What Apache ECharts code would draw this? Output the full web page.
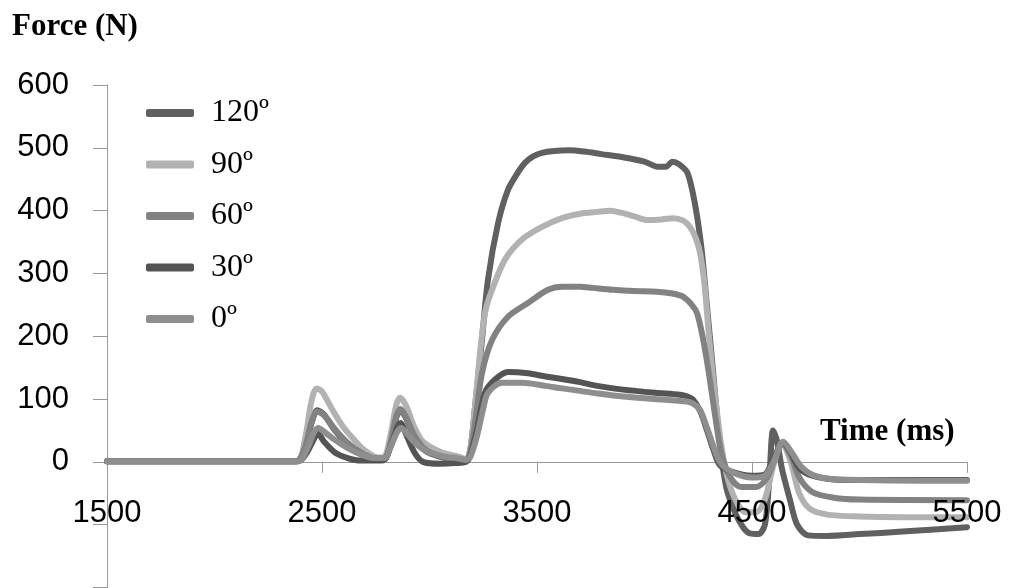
<!DOCTYPE html>
<html>
<head>
<meta charset="utf-8">
<script src="https://cdn.jsdelivr.net/npm/echarts@6/dist/echarts.min.js"></script>
<style>html,body{margin:0;padding:0;background:#fff}#c{width:1011px;height:588px}</style>
</head>
<body>
<div id="c"></div>
<script>
// ---- data (time in ms, force in N) ----
const seriesNames = ['120º', '90º', '60º', '30º', '0º'];
const xTicks = [1500, 2500, 3500, 4500, 5500];
const yTicks = [0, 100, 200, 300, 400, 500, 600];

const t120 = [1500,2380,2420,2450,2478,2510,2560,2620,2680,2740,2790,2820,2845,2865,2890,2930,2980,3050,3120,3170,3190,3212,3244,3272,3319,3365,3410,3444,3480,3523,3580,3650,3720,3800,3900,4000,4060,4100,4130,4160,4200,4235,4265,4290,4320,4350,4380,4420,4460,4490,4530,4560,4580,4598,4615,4640,4677,4710,4760,4850,5000,5200,5500];
const f120 = [1,1,20,60,82,75,50,28,14,5,4,30,70,82,70,40,18,8,4,3,20,88,194,290,380,433,460,476,486,492,495,496,494,490,485,478,470,470,478,474,460,410,340,250,140,30,-40,-80,-105,-114,-115,-100,-30,50,35,-12,-61,-100,-117,-118,-115,-111,-104];

const t90 = [1500,2380,2420,2450,2475,2500,2550,2600,2650,2700,2760,2790,2820,2845,2863,2890,2930,2970,3050,3140,3170,3190,3215,3240,3260,3291,3351,3430,3523,3616,3700,3780,3840,3900,3960,4012,4080,4133,4180,4212,4240,4260,4280,4300,4330,4360,4390,4430,4470,4520,4560,4600,4640,4680,4720,4770,4850,5000,5200,5500];
const f90 = [1,1,35,95,117,112,82,55,35,18,7,8,45,90,102,90,55,32,16,8,4,20,100,190,240,274,322,354,374,388,395,398,400,396,390,385,386,388,384,374,355,330,280,200,100,20,-30,-65,-80,-80,-60,-5,30,0,-50,-75,-84,-87,-88,-88];

const t60 = [1500,2380,2420,2450,2478,2510,2560,2620,2680,2740,2790,2820,2845,2865,2890,2930,2980,3050,3120,3170,3190,3215,3244,3291,3365,3458,3551,3616,3700,3760,3853,3950,4058,4130,4179,4220,4244,4270,4300,4330,4360,4400,4450,4520,4570,4600,4640,4680,4720,4780,4880,5000,5500];
const f60 = [1,1,22,62,80,74,52,30,15,6,5,32,72,84,72,42,20,9,4,3,15,70,141,194,231,253,274,279,279,277,274,272,271,268,263,250,237,200,140,70,10,-25,-40,-40,-25,0,30,10,-25,-48,-57,-60,-61];

const t30 = [1500,2390,2430,2460,2480,2510,2560,2620,2680,2780,2820,2850,2865,2890,2930,2970,3050,3120,3170,3190,3220,3258,3305,3365,3458,3540,3616,3700,3780,3900,4050,4165,4200,4226,4260,4290,4320,4350,4400,4500,4560,4600,4645,4680,4720,4780,4880,5000,5500];
const f30 = [1,1,15,35,45,32,15,6,2,2,25,55,62,45,15,0,-3,-2,0,10,50,110,131,143,141,136,132,127,121,115,110,107,104,99,80,51,20,-5,-15,-22,-20,5,30,15,-10,-22,-28,-29,-29];

const t0 = [1500,2390,2430,2460,2482,2510,2560,2620,2680,2740,2790,2820,2850,2868,2895,2940,2990,3060,3140,3170,3190,3220,3250,3272,3337,3430,3540,3616,3700,3780,3900,4050,4197,4230,4258,4290,4320,4350,4400,4500,4560,4600,4645,4690,4730,4790,4900,5500];
const f0 = [1,1,20,45,54,48,35,22,12,6,6,25,48,54,45,28,16,9,5,3,8,40,85,110,126,126,121,117,113,109,104,100,96,92,83,55,25,0,-15,-25,-22,0,32,12,-8,-22,-28,-30];

const colors = ['#606060', '#b2b2b2', '#828282', '#545454', '#8e8e8e'];

function pairs(t, f) { return t.map((v, i) => [v, f[i]]); }
const seriesData = [pairs(t120, f120), pairs(t90, f90), pairs(t60, f60), pairs(t30, f30), pairs(t0, f0)];

const GRID_TOP = 85, GRID_BOTTOM = 0.5, H = 588;
const plotH = H - GRID_TOP - GRID_BOTTOM;
const zeroOffset = plotH * 200 / 800; // distance from bottom edge to y=0

const labelStyle = { margin: 36, fontFamily: 'Liberation Sans, Arial, sans-serif', fontSize: 31, color: '#000',
  formatter: v => xTicks.includes(v) ? String(v) : '' };

const chart = echarts.init(document.getElementById('c'), null, { renderer: 'canvas' });
chart.setOption({
  animation: false,
  backgroundColor: '#fff',
  grid: { left: 107, right: 44, top: GRID_TOP, bottom: GRID_BOTTOM, containLabel: false, outerBoundsMode: 'none' },
  legend: {
    orient: 'vertical', left: 146, top: 97, padding: 0,
    itemWidth: 48, itemHeight: 8, itemGap: 19.5,
    icon: 'roundRect',
    textStyle: { fontFamily: 'Liberation Serif, Times New Roman, serif', fontSize: 32, color: '#000', lineHeight: 32, padding: [0, 0, 0, 12] },
    data: seriesNames
  },
  graphic: [
    { type: 'text', left: 12, top: 11, style: { text: 'Force (N)', font: 'bold 31px "Liberation Serif", "Times New Roman", serif', fill: '#000' } },
    { type: 'text', left: 820, top: 416, z: 10, style: { text: 'Time (ms)', font: 'bold 31px "Liberation Serif", "Times New Roman", serif', fill: '#000' } }
  ],
  xAxis: [{
    type: 'value', min: 1500, max: 5500, interval: 1000, position: 'bottom',
    offset: -zeroOffset,
    axisLine: { onZero: false, lineStyle: { color: '#999', width: 1 } },
    axisTick: { show: true, length: 11, lineStyle: { color: '#999' } },
    splitLine: { show: false },
    axisLabel: { show: false }
  }, {
    type: 'value', min: 1500, max: 5500, interval: 1000, position: 'bottom',
    offset: -zeroOffset, z: 10,
    axisLine: { show: false, onZero: false },
    axisTick: { show: false },
    splitLine: { show: false },
    axisLabel: labelStyle
  }],
  yAxis: {
    type: 'value', min: -200, max: 600, interval: 100,
    axisLine: { show: true, lineStyle: { color: '#999', width: 1 } },
    axisTick: { show: true, length: 14, lineStyle: { color: '#999' } },
    splitLine: { show: false },
    axisLabel: { margin: 38, fontFamily: 'Liberation Sans, Arial, sans-serif', fontSize: 31, color: '#000',
      formatter: v => yTicks.includes(v) ? String(v) : '' }
  },
  series: seriesNames.map((n, i) => ({
    name: n, type: 'line', data: seriesData[i], xAxisIndex: 0,
    showSymbol: false, symbol: 'none', smooth: 0.3,
    color: colors[i],
    lineStyle: { width: 6, color: colors[i], cap: 'round', join: 'round' }
  }))
});
</script>
</body>
</html>
